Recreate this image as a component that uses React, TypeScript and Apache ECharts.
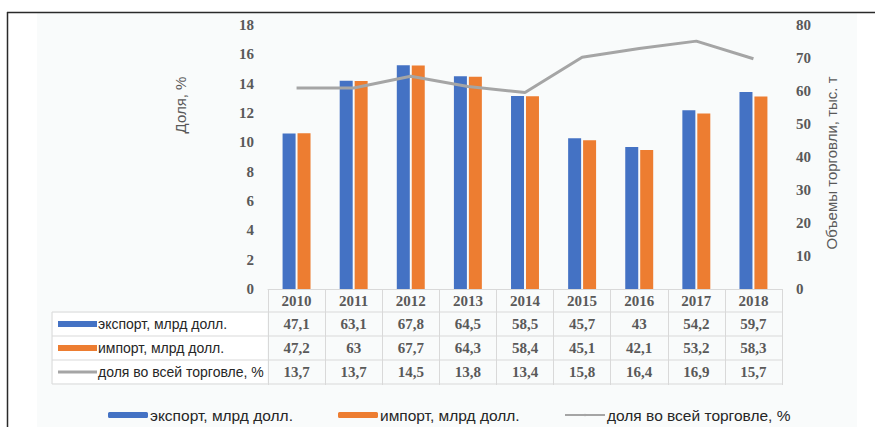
import React, { useEffect, useRef } from "react";
import * as echarts from "echarts";

const years = ["2010", "2011", "2012", "2013", "2014", "2015", "2016", "2017", "2018"];
const exportVals = [47.1, 63.1, 67.8, 64.5, 58.5, 45.7, 43, 54.2, 59.7];
const importVals = [47.2, 63, 67.7, 64.3, 58.4, 45.1, 42.1, 53.2, 58.3];
const shareVals = [13.7, 13.7, 14.5, 13.8, 13.4, 15.8, 16.4, 16.9, 15.7];
const seriesNames = ["экспорт, млрд долл.", "импорт, млрд долл.", "доля во всей торговле, %"];
const leftAxisName = "Доля, %";
const rightAxisName = "Объемы торговли, тыс. т";

const W = 875;
const H = 427;
const GRID_L = 268;
const GRID_R = 93;
const GRID_T = 25;
const GRID_B = 138;
const BLUE = "#4472C4";
const ORANGE = "#ED7D31";
const GRAY = "#A5A5A5";
const NUM_FONT = "Liberation Serif";
const SANS = "Liberation Sans";
const TABLE_LINE = "#d9d9d9";

const fmt = (v: number) => String(v).replace(".", ",");

export default function App() {
  const ref = useRef<HTMLDivElement>(null);
  useEffect(() => {
    if (!ref.current) return;
    const chart = echarts.init(ref.current, undefined, { renderer: "svg" });
    const plotRight = W - GRID_R;
    const plotBottom = H - GRID_B;
    const colW = (plotRight - GRID_L) / years.length;
    const rowH = 24;
    const rowTop = plotBottom + 23;
    const tableLeft = 52;
    const rows = [exportVals, importVals, shareVals];
    const rowColors = [BLUE, ORANGE, GRAY];

    const graphic: any[] = [];
    graphic.push({
      type: "rect",
      z: -100,
      shape: { x: 37, y: 13, width: 820, height: 414 },
      style: { fill: "#f9fbfb" },
    });
    for (let r = 0; r <= rows.length; r++) {
      const y = rowTop + r * rowH;
      graphic.push({
        type: "line",
        shape: { x1: tableLeft, y1: y, x2: plotRight, y2: y },
        style: { stroke: TABLE_LINE, lineWidth: 1 },
      });
    }
    graphic.push({
      type: "line",
      shape: { x1: tableLeft, y1: rowTop, x2: tableLeft, y2: rowTop + rows.length * rowH },
      style: { stroke: TABLE_LINE, lineWidth: 1 },
    });
    graphic.push({
      type: "rect",
      shape: { x: tableLeft + 1, y: rowTop + 1, width: GRID_L - tableLeft - 2, height: rows.length * rowH - 2 },
      style: { fill: "#ffffff" },
      z: -50,
    });
    rows.forEach((vals, r) => {
      const cy = rowTop + r * rowH + rowH / 2;
      if (r < 2) {
        graphic.push({
          type: "rect",
          shape: { x: 58, y: cy - 3, width: 39, height: 6 },
          style: { fill: rowColors[r] },
        });
      } else {
        graphic.push({
          type: "line",
          shape: { x1: 58, y1: cy, x2: 97, y2: cy },
          style: { stroke: rowColors[r], lineWidth: 3 },
        });
      }
      graphic.push({
        type: "text",
        x: 98,
        y: cy,
        style: {
          text: seriesNames[r],
          fill: "#262626",
          font: `14px '${SANS}'`,
          textAlign: "left",
          textVerticalAlign: "middle",
        },
      });
      vals.forEach((v, i) => {
        graphic.push({
          type: "text",
          x: GRID_L + (i + 0.5) * colW,
          y: cy,
          style: {
            text: fmt(v),
            fill: "#595959",
            font: `bold 15px '${NUM_FONT}'`,
            textAlign: "center",
            textVerticalAlign: "middle",
          },
        });
      });
    });
    graphic.push({
      type: "text",
      x: 180,
      y: 105,
      rotation: Math.PI / 2,
      style: {
        text: leftAxisName,
        fill: "#595959",
        font: `15px '${SANS}'`,
        textAlign: "center",
        textVerticalAlign: "middle",
      },
    });
    graphic.push({
      type: "text",
      x: 831,
      y: 163,
      rotation: Math.PI / 2,
      style: {
        text: rightAxisName,
        fill: "#595959",
        font: `15px '${SANS}'`,
        textAlign: "center",
        textVerticalAlign: "middle",
      },
    });
    graphic.push({
      type: "line",
      shape: { x1: 7, y1: 12.5, x2: W, y2: 12.5 },
      style: { stroke: "#2a2a2a", lineWidth: 1.5 },
    });
    graphic.push({
      type: "line",
      shape: { x1: 7.5, y1: 12, x2: 7.5, y2: H },
      style: { stroke: "#2a2a2a", lineWidth: 1.5 },
    });

    const legendBase = {
      top: 402,
      itemWidth: 40,
      itemHeight: 6,
      itemGap: 4,
      textStyle: { color: "#262626", fontSize: 15.5, fontFamily: SANS, padding: [0, 0, 0, -3] },
    };

    chart.setOption({
      animation: false,
      grid: { left: GRID_L, right: GRID_R, top: GRID_T, bottom: GRID_B },
      legend: [
        { ...legendBase, left: 103, data: [seriesNames[0]] },
        { ...legendBase, left: 333, data: [seriesNames[1]] },
        { ...legendBase, left: 559, itemHeight: 3, data: [seriesNames[2]] },
      ],
      xAxis: {
        type: "category",
        data: years,
        axisLine: { show: true, lineStyle: { color: TABLE_LINE, width: 1 } },
        axisTick: { show: true, length: 96, lineStyle: { color: TABLE_LINE, width: 1 } },
        axisLabel: {
          margin: 4,
          lineHeight: 15,
          color: "#595959",
          fontFamily: NUM_FONT,
          fontWeight: "bold",
          fontSize: 15,
        },
        splitLine: { show: false },
      },
      yAxis: [
        {
          type: "value",
          min: 0,
          max: 18,
          interval: 2,
          axisLine: { show: false },
          axisTick: { show: false },
          splitLine: { show: false },
          axisLabel: {
            margin: 14,
            color: "#595959",
            fontFamily: NUM_FONT,
            fontWeight: "bold",
            fontSize: 15,
          },
        },
        {
          type: "value",
          min: 0,
          max: 80,
          interval: 10,
          position: "right",
          axisLine: { show: false },
          axisTick: { show: false },
          splitLine: { show: false },
          axisLabel: {
            margin: 14,
            color: "#595959",
            fontFamily: NUM_FONT,
            fontWeight: "bold",
            fontSize: 15,
          },
        },
      ],
      series: [
        {
          name: seriesNames[0],
          type: "bar",
          yAxisIndex: 1,
          data: exportVals,
          barWidth: 13,
          barGap: "15%",
          itemStyle: { color: BLUE },
        },
        {
          name: seriesNames[1],
          type: "bar",
          yAxisIndex: 1,
          data: importVals,
          barWidth: 13,
          barGap: "15%",
          itemStyle: { color: ORANGE },
        },
        {
          name: seriesNames[2],
          type: "line",
          yAxisIndex: 0,
          data: shareVals,
          symbol: "none",
          legendIcon: "rect",
          lineStyle: { color: GRAY, width: 3 },
          itemStyle: { color: GRAY },
          z: 5,
        },
      ],
      graphic,
    });
    return () => chart.dispose();
  }, []);
  return (
    <div
      ref={ref}
      style={{ position: "fixed", left: 0, top: 0, width: W, height: H, background: "#ffffff" }}
    />
  );
}
